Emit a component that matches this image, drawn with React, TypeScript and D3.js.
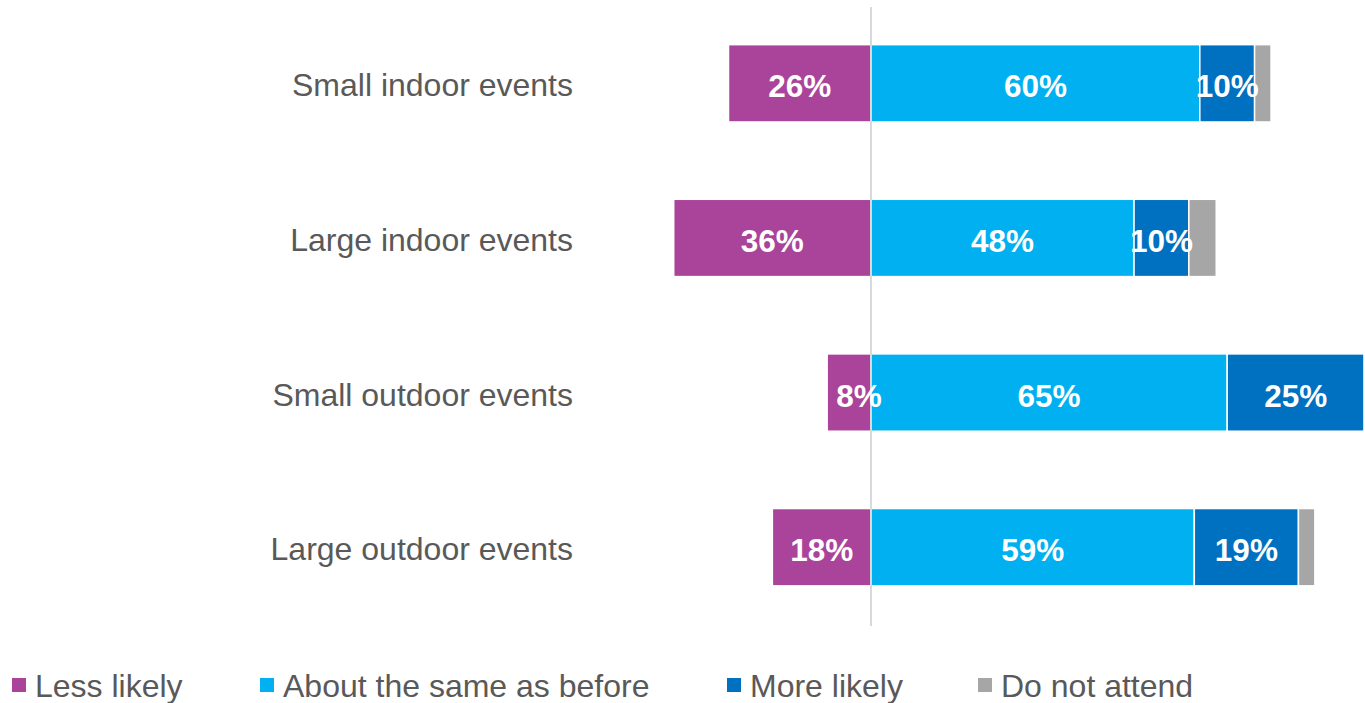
import React from "react";
import * as d3 from "d3";

const categories = ["Small indoor events", "Large indoor events", "Small outdoor events", "Large outdoor events"];
const seriesNames = ["Less likely", "About the same as before", "More likely", "Do not attend"];
const lessLikely = [26, 36, 8, 18];
const aboutSame = [60, 48, 65, 59];
const moreLikely = [10, 10, 25, 19];
const doNotAttend = [3, 5, 2, 3];
const colors = ["#A9449A", "#00B0F0", "#0070C0", "#A6A6A6"];
const showLabel = [true, true, true, false];

const W = 1365;
const H = 703;
const FONT = "'Liberation Sans', Arial, Helvetica, sans-serif";

export default function App() {
  const x = d3.scaleLinear().domain([-40, 90]).range([651.8, 1364.2]);
  const y = d3.scaleBand<string>().domain(categories).range([6, 624.5]).paddingInner(0.5).paddingOuter(0.25);
  const bw = y.bandwidth();

  const segs: { cat: string; s: number; x0: number; x1: number; v: number }[] = [];
  categories.forEach((c, i) => {
    const l = lessLikely[i];
    segs.push({ cat: c, s: 0, x0: -l, x1: 0, v: l });
    let acc = 0;
    [aboutSame[i], moreLikely[i], doNotAttend[i]].forEach((v, k) => {
      segs.push({ cat: c, s: k + 1, x0: acc, x1: acc + v, v });
      acc += v;
    });
  });

  const legendX = [12, 260, 727, 978];

  return (
    <svg width={W} height={H} style={{ position: "absolute", left: 0, top: 0, background: "#fff" }} fontFamily={FONT}>
      {segs.map((d, i) => (
        <rect
          key={i}
          x={x(d.x0)}
          y={y(d.cat)!}
          width={x(d.x1) - x(d.x0)}
          height={bw}
          fill={colors[d.s]}
          stroke="#fff"
          strokeWidth={1.5}
        />
      ))}
      <line x1={x(0)} x2={x(0)} y1={7} y2={626} stroke="#D9D9D9" strokeWidth={2} />
      {segs
        .filter((d) => showLabel[d.s])
        .map((d, i) => {
          const w = x(d.x1) - x(d.x0);
          const narrow = w < 48;
          return (
            <text
              key={"l" + i}
              x={narrow ? x(d.x0) + 9 : (x(d.x0) + x(d.x1)) / 2}
              y={y(d.cat)! + bw / 2 + 14}
              textAnchor={narrow ? "start" : "middle"}
              fill="#fff"
              fontWeight="bold"
              fontSize={31.5}
            >
              {d.v + "%"}
            </text>
          );
        })}
      {categories.map((c) => (
        <text key={c} x={573} y={y(c)! + bw / 2 + 13} textAnchor="end" fill="#595959" fontSize={32}>
          {c}
        </text>
      ))}
      {seriesNames.map((n, i) => (
        <g key={n}>
          <rect x={legendX[i]} y={678} width={14} height={14} fill={colors[i]} />
          <text x={legendX[i] + 23} y={697} fill="#595959" fontSize={32}>
            {n}
          </text>
        </g>
      ))}
    </svg>
  );
}
